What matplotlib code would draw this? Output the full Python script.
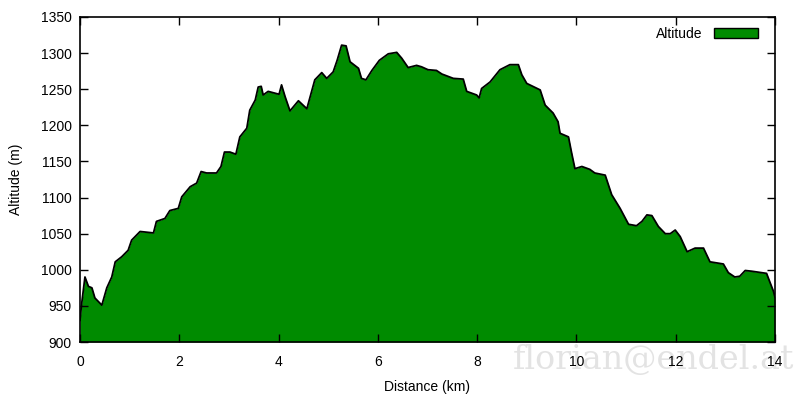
import matplotlib.pyplot as plt

# perfil de altitud (km, m)
dist = [0.00, 0.03, 0.10, 0.17, 0.24, 0.30, 0.44, 0.54, 0.64, 0.71, 0.84, 0.97,
        1.04, 1.21, 1.48, 1.54, 1.71, 1.81, 1.98, 2.05, 2.22, 2.35, 2.44, 2.55,
        2.75, 2.84, 2.91, 3.02, 3.14, 3.22, 3.36, 3.42, 3.53, 3.59, 3.65, 3.69,
        3.79, 4.01, 4.06, 4.13, 4.23, 4.40, 4.57, 4.73, 4.87, 4.97, 5.10, 5.18,
        5.27, 5.36, 5.44, 5.61, 5.67, 5.76, 5.88, 6.03, 6.21, 6.38, 6.48, 6.61,
        6.78, 6.88, 7.01, 7.18, 7.29, 7.52, 7.72, 7.79, 7.99, 8.04, 8.09, 8.26,
        8.46, 8.66, 8.83, 8.90, 9.00, 9.27, 9.37, 9.53, 9.63, 9.67, 9.84, 9.90,
        9.97, 10.11, 10.27, 10.37, 10.58, 10.71, 10.88, 11.05, 11.21, 11.32,
        11.42, 11.52, 11.65, 11.79, 11.89, 11.99, 12.09, 12.23, 12.39, 12.56,
        12.69, 12.96, 13.06, 13.19, 13.29, 13.40, 13.53, 13.83, 13.88, 13.97,
        14.00]
alt = [930, 951, 990, 977, 975, 961, 951, 975, 990, 1011, 1018, 1027,
       1041, 1053, 1051, 1067, 1071, 1082, 1085, 1101, 1115, 1120, 1136, 1134,
       1134, 1143, 1163, 1163, 1160, 1184, 1196, 1221, 1235, 1253, 1254, 1242,
       1247, 1243, 1256, 1240, 1220, 1234, 1223, 1263, 1273, 1265, 1274, 1290,
       1311, 1310, 1288, 1279, 1265, 1263, 1276, 1290, 1299, 1301, 1293, 1280,
       1283, 1281, 1277, 1276, 1271, 1265, 1264, 1247, 1242, 1238, 1251, 1260,
       1277, 1284, 1284, 1270, 1258, 1249, 1228, 1217, 1205, 1189, 1184, 1163,
       1140, 1143, 1139, 1134, 1131, 1104, 1085, 1063, 1061, 1067,
       1076, 1075, 1060, 1050, 1050, 1055, 1046, 1025, 1030, 1030,
       1011, 1008, 996, 990, 991, 999, 998, 995, 986, 970,
       962]

verde = '#008b00'
plt.rcParams['font.family'] = ['Liberation Sans', 'DejaVu Sans']

fig = plt.figure(figsize=(8, 4), dpi=100)
# marca de agua detrás de todo
fig.text(0.641, 0.1, 'florian@endel.at', family='DejaVu Serif', fontsize=24,
         color='#e3e3e3', va='center', ha='left', zorder=-5)

ax = fig.add_axes([0.1, 0.145, 0.86875, 0.8125])
ax.patch.set_alpha(0)

ax.fill_between(dist, 900, alt, color=verde, lw=0, label='Altitude')
ax.plot(dist, alt, color='black', lw=1.3)

ax.set_xlim(0, 14)
ax.set_ylim(900, 1350)
ax.set_xticks(range(0, 15, 2))
ax.set_yticks(range(900, 1351, 50))
ax.tick_params(axis='x', pad=9)
ax.tick_params(axis='y', pad=6)
ax.tick_params(direction='in', top=True, right=True, length=6, width=1,
               labelsize=10)
for s in ax.spines.values():
    s.set_linewidth(1.2)

ax.set_xlabel('Distance (km)', fontsize=10, labelpad=8)
ax.set_ylabel('Altitude (m)', fontsize=10, labelpad=13)

# leyenda al estilo gnuplot
leg = ax.legend(loc='upper right', frameon=False, fontsize=10,
                markerfirst=False, handlelength=3.2, handleheight=0.7,
                borderaxespad=0.3, bbox_to_anchor=(0.99, 1.0))
for h in leg.legend_handles:
    h.set_edgecolor('black')
    h.set_linewidth(1)

fig.savefig('out.png', dpi=100)
